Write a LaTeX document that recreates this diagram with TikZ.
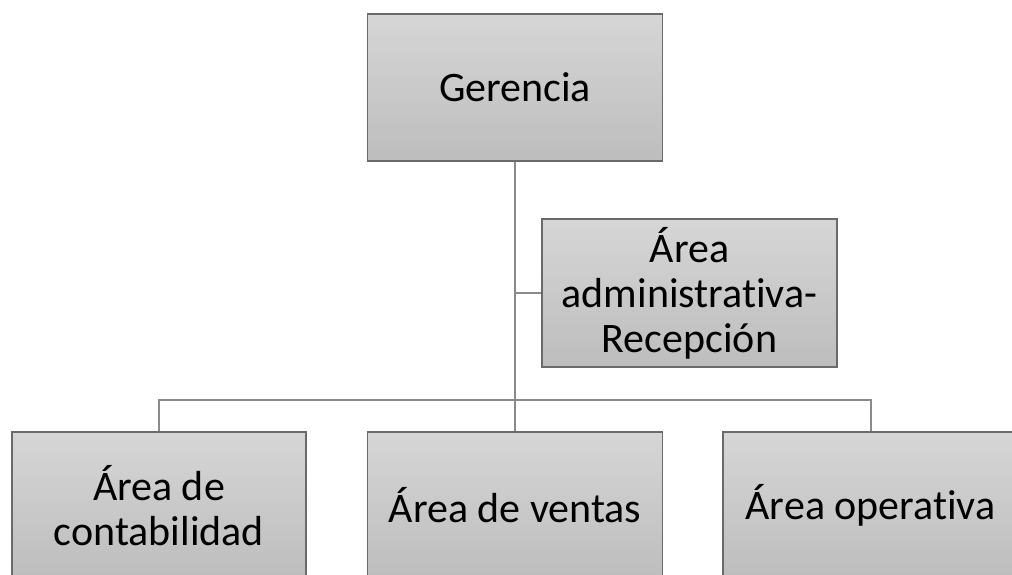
\documentclass[tikz,border=0pt]{standalone}
\usepackage{fontspec}
\setmainfont{Carlito}[Ligatures=NoCommon]
\definecolor{boxtop}{HTML}{D6D6D6}
\definecolor{boxbot}{HTML}{BDBDBD}
\definecolor{boxline}{HTML}{6A6A6A}
\definecolor{connline}{HTML}{8A8A8A}
\begin{document}
\begin{tikzpicture}[x=1pt,y=-1pt,
  orgbox/.style={rectangle, draw=boxline, line width=1.2pt, top color=boxtop, bottom color=boxbot,
    minimum width=295pt, minimum height=147pt, inner sep=0pt, align=center,
    font=\fontsize{42}{45}\selectfont, text=black},
  conn/.style={draw=connline, line width=2pt}]
\useasboundingbox (0,0) rectangle (1012,575);
\node[orgbox] (ger) at (515,87.5) {Gerencia};
\node[orgbox, minimum height=148pt] (asst) at (689.5,293) {Área\\administrativa-\\Recepción};
\node[orgbox, minimum width=294pt] (left) at (159,505.5) {Área de\\contabilidad};
\node[orgbox] (mid) at (515,505.5) {Área de ventas};
\node[orgbox] (right) at (870.5,505.5) {Área operativa};
\coordinate (busy) at (0,400);
\draw[conn] (ger.south) -- (mid.north);
\draw[conn] (ger.south |- asst.west) -- (asst.west);
\draw[conn] (left.north) -- (left.north |- busy) -- (right.north |- busy) -- (right.north);
\end{tikzpicture}
\end{document}
